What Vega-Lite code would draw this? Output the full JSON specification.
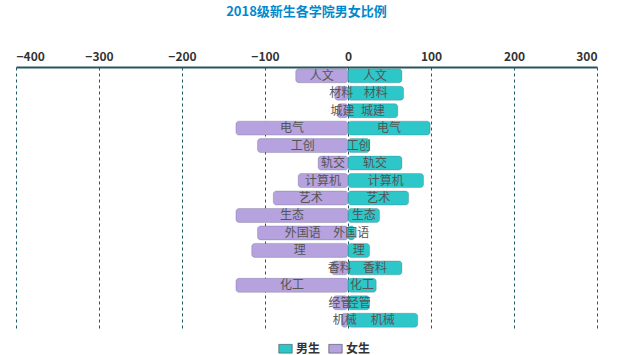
{
  "$schema": "https://vega.github.io/schema/vega-lite/v6.json",
  "width": 581,
  "height": 262,
  "autosize": {"type": "none"},
  "padding": {"left": 16, "top": 67, "right": 43, "bottom": 26},
  "title": {"text": "2018级新生各学院男女比例", "font": "Noto Sans CJK SC", "fontSize": 13, "fontWeight": "bold", "color": "#008acd", "offset": 31},
  "config": {"view": {"stroke": null}, "font": "Noto Sans CJK SC"},
  "data": {"values": [
    {"college": "人文", "gender": "男生", "value": 65},
    {"college": "材料", "gender": "男生", "value": 67},
    {"college": "城建", "gender": "男生", "value": 60},
    {"college": "电气", "gender": "男生", "value": 99},
    {"college": "工创", "gender": "男生", "value": 26},
    {"college": "轨交", "gender": "男生", "value": 65},
    {"college": "计算机", "gender": "男生", "value": 91},
    {"college": "艺术", "gender": "男生", "value": 73},
    {"college": "生态", "gender": "男生", "value": 38},
    {"college": "外国语", "gender": "男生", "value": 8},
    {"college": "理", "gender": "男生", "value": 26},
    {"college": "香料", "gender": "男生", "value": 65},
    {"college": "化工", "gender": "男生", "value": 34},
    {"college": "经管", "gender": "男生", "value": 26},
    {"college": "机械", "gender": "男生", "value": 84},
    {"college": "人文", "gender": "女生", "value": -63},
    {"college": "材料", "gender": "女生", "value": -16},
    {"college": "城建", "gender": "女生", "value": -13},
    {"college": "电气", "gender": "女生", "value": -135},
    {"college": "工创", "gender": "女生", "value": -109},
    {"college": "轨交", "gender": "女生", "value": -36},
    {"college": "计算机", "gender": "女生", "value": -60},
    {"college": "艺术", "gender": "女生", "value": -90},
    {"college": "生态", "gender": "女生", "value": -135},
    {"college": "外国语", "gender": "女生", "value": -109},
    {"college": "理", "gender": "女生", "value": -116},
    {"college": "香料", "gender": "女生", "value": -20},
    {"college": "化工", "gender": "女生", "value": -135},
    {"college": "经管", "gender": "女生", "value": -18},
    {"college": "机械", "gender": "女生", "value": -8}
  ]},
  "encoding": {
    "y": {"field": "college", "type": "nominal", "sort": null, "axis": null,
          "scale": {"paddingInner": 0.2, "paddingOuter": 0.1}}
  },
  "layer": [
    {
      "mark": {"type": "bar", "cornerRadius": 3, "stroke": "#3a4a55", "strokeWidth": 0.4, "strokeOpacity": 0.6},
      "encoding": {
        "x": {"field": "value", "type": "quantitative", "stack": null,
              "scale": {"domain": [-400, 300], "nice": false},
              "axis": {"orient": "top", "values": [-400, -300, -200, -100, 0, 100, 200, 300], "title": null,
                       "labelFont": "Noto Sans CJK SC", "labelFontSize": 12, "labelFontWeight": "bold", "labelColor": "#333333",
                       "labelPadding": 4,
                       "domainColor": "#27565f", "domainWidth": 2, "ticks": false,
                       "grid": true, "gridColor": "#1e5a66", "gridDash": [3, 3], "gridWidth": 1}},
        "color": {"field": "gender", "type": "nominal",
                  "scale": {"domain": ["男生", "女生"], "range": ["#2ec7c9", "#b6a2de"]},
                  "legend": {"title": null, "orient": "none", "direction": "horizontal", "legendX": 262, "legendY": 274,
                             "symbolType": "M-1,-0.65H1V0.65H-1Z", "symbolSize": 180, "symbolStrokeColor": "#3a4a55", "symbolStrokeWidth": 0.6,
                             "labelFont": "Noto Sans CJK SC", "labelFontSize": 12, "labelFontWeight": "bold", "labelColor": "#333333",
                             "columnPadding": 6, "labelOffset": 3}}
      }
    },
    {
      "transform": [{"calculate": "datum.value / 2", "as": "mid"}],
      "mark": {"type": "text", "font": "Noto Sans CJK SC", "fontSize": 12, "color": "#555555", "align": "center", "baseline": "middle"},
      "encoding": {
        "x": {"field": "mid", "type": "quantitative"},
        "text": {"field": "college"}
      }
    }
  ]
}
